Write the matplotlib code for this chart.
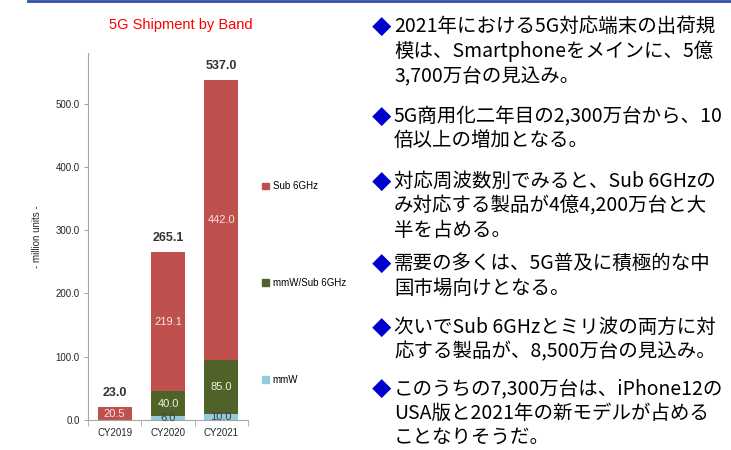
import matplotlib
matplotlib.use("Agg")
import matplotlib.pyplot as plt
from matplotlib.lines import Line2D
from matplotlib.patches import Patch
import numpy as np

# Datos
years = ["CY2019", "CY2020", "CY2021"]
mmw = [0.0, 6.0, 10.0]
mmw_sub6 = [0.0, 40.0, 85.0]
sub6 = [20.5, 219.1, 442.0]
totals = [23.0, 265.1, 537.0]
yticks = [0, 100, 200, 300, 400, 500]

bullets = [
    ["2021年における5G対応端末の出荷規", "模は、Smartphoneをメインに、5億", "3,700万台の見込み。"],
    ["5G商用化二年目の2,300万台から、10", "倍以上の増加となる。"],
    ["対応周波数別でみると、Sub 6GHzの", "み対応する製品が4億4,200万台と大", "半を占める。"],
    ["需要の多くは、5G普及に積極的な中", "国市場向けとなる。"],
    ["次いでSub 6GHzとミリ波の両方に対", "応する製品が、8,500万台の見込み。"],
    ["このうちの7,300万台は、iPhone12の", "USA版と2021年の新モデルが占める", "ことなりそうだ。"],
]

# Colores
c_sub6 = "#C0504D"
c_both = "#4F6228"
c_mmw = "#92CDDC"
grey = "#A6A6A6"

W, H = 731, 450
fig = plt.figure(figsize=(W / 100, H / 100), dpi=100)
ax = fig.add_axes([88 / W, 30 / H, 160 / W, 367 / H])

x = np.arange(len(years))
bw = 0.64
ax.bar(x, mmw, bw, color=c_mmw, label="mmW")
ax.bar(x, mmw_sub6, bw, bottom=mmw, color=c_both, label="mmW/Sub 6GHz")
base = np.array(mmw) + np.array(mmw_sub6)
ax.bar(x, sub6, bw, bottom=base, color=c_sub6, label="Sub 6GHz")

# Etiquetas de valores
for i in range(len(years)):
    if mmw[i] > 0:
        ax.text(x[i], mmw[i] / 2, f"{mmw[i]:.1f}", ha="center", va="center",
                fontsize=8, color="#404040", family="Liberation Sans")
    if mmw_sub6[i] > 0:
        ax.text(x[i], mmw[i] + mmw_sub6[i] / 2, f"{mmw_sub6[i]:.1f}", ha="center", va="center",
                fontsize=8, color="#EEF2E4", family="Liberation Sans")
    ax.text(x[i], base[i] + sub6[i] / 2, f"{sub6[i]:.1f}", ha="center", va="center",
            fontsize=8, color="#F7E4E3", family="Liberation Sans")
    ax.annotate(f"{totals[i]:.1f}", (x[i], base[i] + sub6[i]), xytext=(0, 6),
                textcoords="offset points", ha="center", va="bottom",
                fontsize=9, fontweight="bold", color="#333333", family="Liberation Sans")

ax.set_xlim(-0.5, 2.5)
ax.set_ylim(0, 580)
ax.set_yticks(yticks)
ax.set_yticklabels([f"{v:.1f}" for v in yticks], fontsize=7, family="Liberation Sans", color="#262626")
ax.set_xticks(x)
ax.set_xticklabels(years, fontsize=7, family="Liberation Sans", color="#262626")
ax.tick_params(axis="x", length=0, pad=6)
ax.set_xticks([-0.5, 0.5, 1.5, 2.5], minor=True)
ax.tick_params(axis="x", which="minor", length=4, color=grey, direction="out")
ax.tick_params(axis="y", length=3, color=grey, direction="out", pad=3)
for s in ["top", "right"]:
    ax.spines[s].set_visible(False)
ax.spines["left"].set_color(grey)
ax.spines["bottom"].set_color(grey)
ax.set_ylabel("- million units -", fontsize=7, family="Liberation Sans", color="#262626", labelpad=10)

fig.text(181 / W, 1 - 25 / H, "5G Shipment by Band", color="#FF0000", fontsize=10.5,
         family="Liberation Sans", ha="center", va="center")

# Leyenda
handles = [Patch(color=c_sub6, label="Sub 6GHz"),
           Patch(color=c_both, label="mmW/Sub 6GHz"),
           Patch(color=c_mmw, label="mmW")]
fig.legend(handles=handles, loc="center left", bbox_to_anchor=(262 / W, 1 - 283 / H),
           bbox_transform=fig.transFigure, frameon=False,
           prop={"family": "Liberation Sans", "size": 7},
           handlelength=0.7, handleheight=0.7, handletextpad=0.4,
           labelspacing=8.9, borderpad=0, borderaxespad=0)

# Línea superior
fig.add_artist(Line2D([28 / W, 1], [1 - 1 / H, 1 - 1 / H], color="#2F52A4", linewidth=2,
                      transform=fig.transFigure))

# Texto de la derecha
para_y = [25, 115, 180, 262, 326, 387]
line_h = 24.5
jp = ["Noto Sans CJK JP", "DejaVu Sans"]
for py, lines in zip(para_y, bullets):
    fig.text(382 / W, 1 - (py + 9) / H, "◆", color="#0000CC", fontsize=14, ha="center",
             va="baseline", family=jp)
    for j, line in enumerate(lines):
        fig.text(394 / W, 1 - (py + j * line_h + 7) / H, line, color="#000000", fontsize=14,
                 ha="left", va="baseline", family=jp)

fig.savefig("out.png", dpi=100)
